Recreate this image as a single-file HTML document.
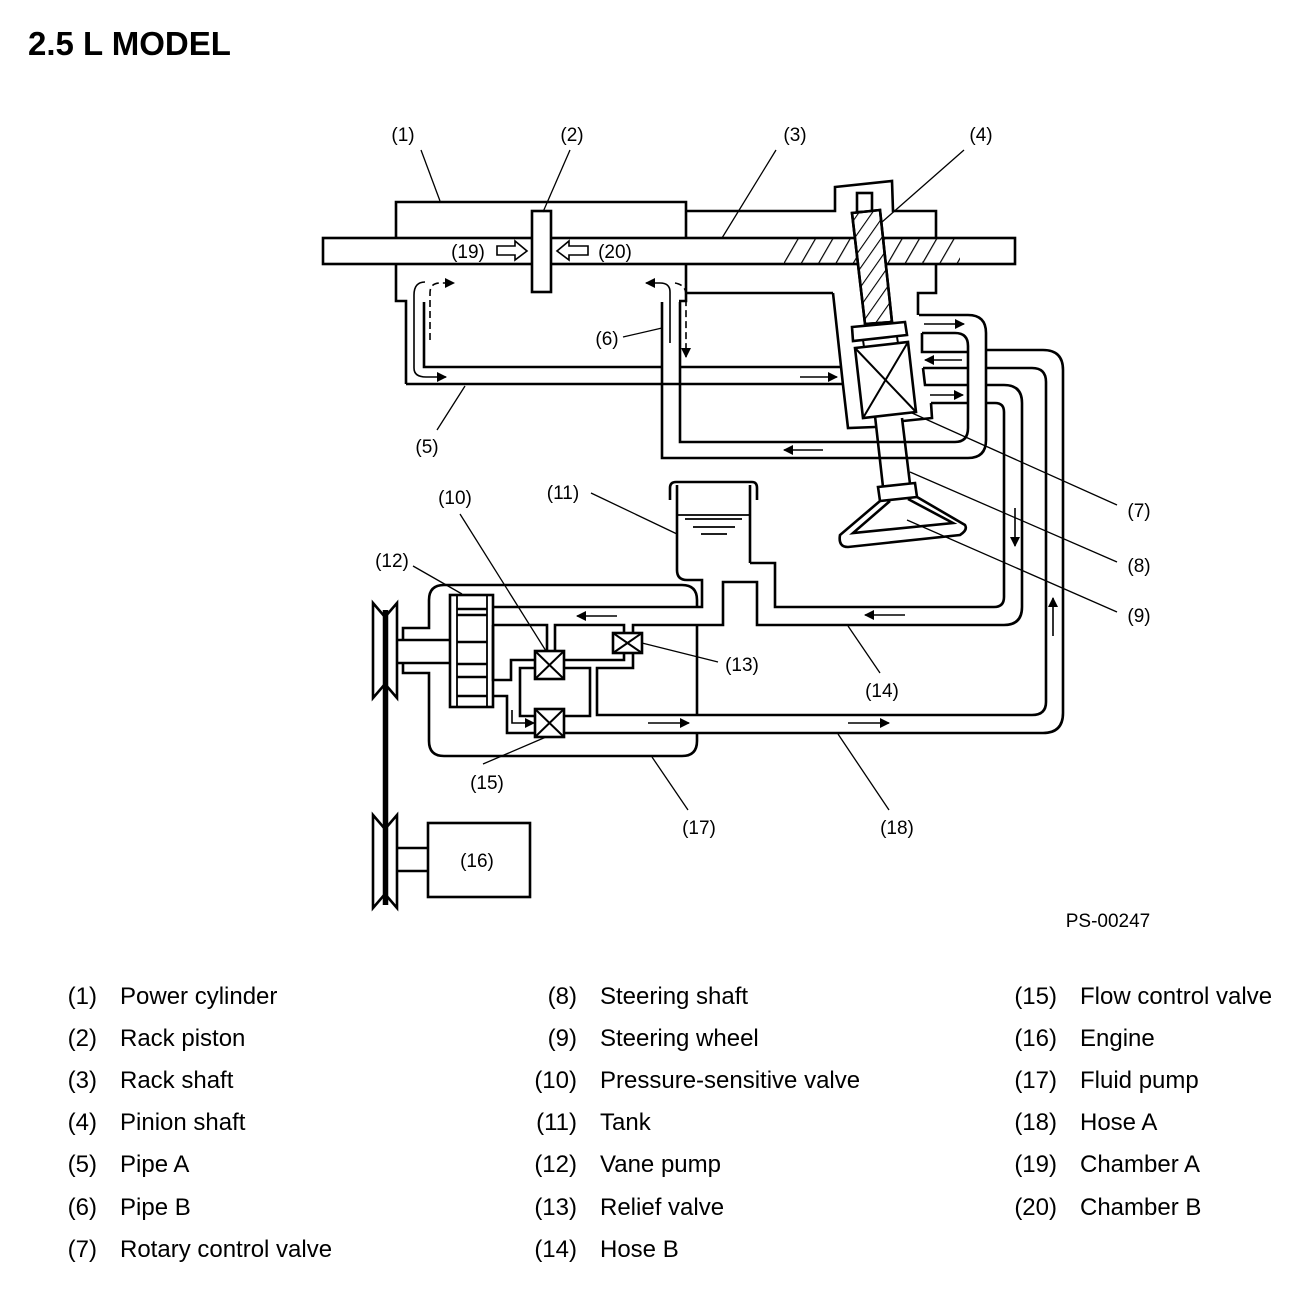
<!DOCTYPE html>
<html><head><meta charset="utf-8"><style>
html,body{margin:0;padding:0;background:#fff;}
body{width:1312px;height:1304px;position:relative;overflow:hidden;font-family:"Liberation Sans",sans-serif;}
svg{position:absolute;left:0;top:0;}
</style></head><body>
<svg width="1312" height="1304" viewBox="0 0 1312 1304" xmlns="http://www.w3.org/2000/svg">
<defs>
<marker id="ah" viewBox="0 0 10 10" refX="9" refY="5" markerWidth="14" markerHeight="10" markerUnits="userSpaceOnUse" orient="auto"><path d="M0,0 L10,5 L0,10 z" fill="#000"/></marker>
<pattern id="hatch" width="15" height="15" patternUnits="userSpaceOnUse" patternTransform="rotate(30)"><line x1="0" y1="0" x2="0" y2="15" stroke="#000" stroke-width="2.4"/></pattern>
<pattern id="hatch2" width="11" height="11" patternUnits="userSpaceOnUse" patternTransform="rotate(35)"><line x1="0" y1="0" x2="0" y2="11" stroke="#000" stroke-width="2.2"/></pattern>
</defs>
<text x="28" y="55" font-size="33" font-weight="bold" font-family="Liberation Sans, sans-serif">2.5 L MODEL</text>

<g fill="none" stroke="#000" stroke-width="2.6" stroke-linejoin="miter">
<path d="M686,211 H835 V187 L892,181 L893,211 H936 V293 H918 V315" fill="#fff"/>
<path d="M406,384 V301 H396 V202 H686 V301 H679" fill="#fff"/>
<rect x="323" y="238" width="692" height="26" fill="#fff"/>
<rect x="784" y="239" width="176" height="24" fill="url(#hatch)" stroke="none"/>
<rect x="532" y="211" width="19" height="81" fill="#fff"/>
<path d="M662,367 H424 V302"/>
<path d="M406,384 H843"/>
<path d="M680,367 H842"/>
<path d="M686,293 H820 H833"/>
<path d="M833,293 L843,385 L848,428 L875,427"/>
<path d="M662,302 V458 H968 Q986,458 986,440 V333 Q986,315 968,315 H919"/>
<path d="M680,302 V442 H955 Q968,442 968,428 V346 Q968,333 955,333 H922"/>
<path d="M922,333 V352 H968"/><path d="M923,368 H968"/><path d="M923,368 L925,385 H968"/><path d="M931,403 H968"/>
<path d="M931,403 L932,418 L903,421"/>
<path d="M986,350 H1043 Q1063,350 1063,370 V713 Q1063,733 1043,733 H564"/>
<path d="M986,368 H1032 Q1046,368 1046,382 V702 Q1046,715 1032,715 H597 V668 H633 V653"/>
<path d="M986,385 H1004 Q1022,385 1022,403 V607 Q1022,625 1004,625 H757 V582 H723 V625 H633 V633"/>
<path d="M986,403 H995 Q1004,403 1004,412 V597 Q1004,607 994,607 H775 V563 H750"/>
<path d="M750,563 V485 M677,485 V570 Q677,580 687,580 H702 V607 H493"/>
<path d="M670,500 V488 Q670,482 676,482 H752 Q757,482 757,488 V500"/>
<path d="M677,515 H750" stroke-width="1.8"/><path d="M685,519 H742" stroke-width="1.8"/><path d="M693,527 H735" stroke-width="1.8"/><path d="M701,534 H727" stroke-width="1.8"/>
<path d="M697,607 V600 Q697,585 682,585 H444 Q429,585 429,600 V628 H403 V640 M403,663 V673 H429 V741 Q429,756 444,756 H682 Q697,756 697,741 V733"/>
<path d="M697,625 V715"/>
<path d="M397,640 H450 M397,663 H450"/>
<rect x="450" y="595" width="43" height="112" fill="#fff"/>
<path d="M457,595 V707 M487,595 V707" stroke-width="1.8"/>
<path d="M457,609 H487 M457,615 H487 M457,642 H487 M457,664 H487 M457,677 H487 M457,696 H487" stroke-width="2.4"/>
<path d="M493,625 H547 V651 M555,651 V625 H624 V633 M493,625 V680 H511 V660 H535"/>
<path d="M564,660 H624 V653"/>
<path d="M564,668 H590 V716 H564 M535,668 H520 V716 H535"/>
<path d="M493,696 H507 V733 H535"/>
<g fill="#fff"><rect x="535" y="651" width="29" height="28"/><rect x="535" y="709" width="29" height="28"/><rect x="613" y="633" width="29" height="20"/></g>
<path d="M535,651 L564,679 M564,651 L535,679 M535,709 L564,737 M564,709 L535,737 M613,633 L642,653 M642,633 L613,653" stroke-width="2"/>
<rect x="857" y="193" width="15" height="19" fill="#fff"/>
<path d="M852,213 L880,210 L892,322 L865,324 Z" fill="#fff"/>
<path d="M852,213 L880,210 L892,322 L865,324 Z" fill="url(#hatch2)"/>
<path d="M852,327 L905,322 L907,335 L853,341 Z" fill="#fff"/>
<path d="M863,340 L864,347 M897,337 L898,343" stroke-width="2"/>
<path d="M855,348 L908,342 L916,412 L863,418 Z" fill="#fff"/>
<path d="M855,348 L916,412 M908,342 L863,418" stroke-width="2"/>
<path d="M875,416 L883,487 M902,418 L910,484"/>
<path d="M878,487 L915,483 L917,497 L880,501 Z" fill="#fff"/>
<path d="M880,501 L840,535 Q838,547 848,547 L960,535 Q968,530 965,525 L917,497"/>
<path d="M890,501 L853,533 L953,523 L908,499"/>
<path d="M373,603 L385,617 L397,603 V698 L385,684 L373,698 Z"/>
<path d="M373,815 L385,829 L397,815 V908 L385,894 L373,908 Z"/>
<path d="M385.5,610 V905" stroke-width="5.5"/>
<rect x="428" y="823" width="102" height="74"/>
<path d="M397,848 H428 M397,871 H428"/>
</g>

<g stroke="#000" stroke-width="1.6" fill="none" marker-end="url(#ah)">
<line x1="800" y1="377" x2="837" y2="377"/>
<line x1="823" y1="450" x2="784" y2="450"/>
<line x1="924" y1="324" x2="964" y2="324"/>
<line x1="962" y1="360" x2="925" y2="360"/>
<line x1="930" y1="395" x2="963" y2="395"/>
<line x1="1015" y1="508" x2="1015" y2="546"/>
<line x1="1053" y1="636" x2="1053" y2="598"/>
<line x1="905" y1="615" x2="865" y2="615"/>
<line x1="617" y1="616" x2="577" y2="616"/>
<line x1="648" y1="723" x2="689" y2="723"/>
<line x1="848" y1="723" x2="889" y2="723"/>
<path d="M512,710 V723 H534"/>
<path d="M425,282 Q414,282 414,295 V368 Q414,377 426,377 H446"/>
<path d="M430,340 V293 Q430,283 440,283 H454" stroke-dasharray="7,4"/>
<path d="M670,343 V292 Q670,283 660,283 H646"/>
<path d="M675,283 Q686,285 686,295 V357" stroke-dasharray="7,4"/>
</g>
<g fill="#fff" stroke="#000" stroke-width="1.6">
<path d="M497,246 H515 V241 L527,251 L515,260 V255 H497 Z"/>
<path d="M588,246 H569 V241 L557,251 L569,260 V255 H588 Z"/>
</g>

<g stroke="#000" stroke-width="1.3" fill="none">
<line x1="421" y1="150" x2="440" y2="201"/>
<line x1="570" y1="150" x2="543" y2="212"/>
<line x1="776" y1="150" x2="722" y2="238"/>
<line x1="964" y1="150" x2="882" y2="222"/>
<line x1="437" y1="430" x2="465" y2="386"/>
<line x1="623" y1="337" x2="662" y2="328"/>
<line x1="1117" y1="505" x2="912" y2="413"/>
<line x1="1117" y1="562" x2="910" y2="472"/>
<line x1="1117" y1="612" x2="907" y2="520"/>
<line x1="460" y1="514" x2="546" y2="651"/>
<line x1="591" y1="493" x2="677" y2="534"/>
<line x1="413" y1="566" x2="462" y2="594"/>
<line x1="718" y1="662" x2="642" y2="643"/>
<line x1="880" y1="673" x2="848" y2="626"/>
<line x1="483" y1="764" x2="546" y2="737"/>
<line x1="688" y1="810" x2="652" y2="757"/>
<line x1="889" y1="810" x2="838" y2="734"/>
</g>

<g font-size="19" text-anchor="middle" fill="#000">
<text x="403" y="141">(1)</text><text x="572" y="141">(2)</text><text x="795" y="141">(3)</text><text x="981" y="141">(4)</text>
<text x="427" y="453">(5)</text><text x="607" y="345">(6)</text>
<text x="1139" y="517">(7)</text><text x="1139" y="572">(8)</text><text x="1139" y="622">(9)</text>
<text x="455" y="504">(10)</text><text x="563" y="499">(11)</text><text x="392" y="567">(12)</text>
<text x="742" y="671">(13)</text><text x="882" y="697">(14)</text><text x="487" y="789">(15)</text>
<text x="477" y="867">(16)</text><text x="699" y="834">(17)</text><text x="897" y="834">(18)</text>
<text x="468" y="258">(19)</text><text x="615" y="258">(20)</text>
<text x="1108" y="927">PS-00247</text>
</g>

<g font-size="24" fill="#000">
<g text-anchor="end">
<text x="97" y="1004">(1)</text><text x="97" y="1046">(2)</text><text x="97" y="1088">(3)</text><text x="97" y="1130">(4)</text><text x="97" y="1172">(5)</text><text x="97" y="1215">(6)</text><text x="97" y="1257">(7)</text>
<text x="577" y="1004">(8)</text><text x="577" y="1046">(9)</text><text x="577" y="1088">(10)</text><text x="577" y="1130">(11)</text><text x="577" y="1172">(12)</text><text x="577" y="1215">(13)</text><text x="577" y="1257">(14)</text>
<text x="1057" y="1004">(15)</text><text x="1057" y="1046">(16)</text><text x="1057" y="1088">(17)</text><text x="1057" y="1130">(18)</text><text x="1057" y="1172">(19)</text><text x="1057" y="1215">(20)</text>
</g>
<text x="120" y="1004">Power cylinder</text><text x="120" y="1046">Rack piston</text><text x="120" y="1088">Rack shaft</text><text x="120" y="1130">Pinion shaft</text><text x="120" y="1172">Pipe A</text><text x="120" y="1215">Pipe B</text><text x="120" y="1257">Rotary control valve</text>
<text x="600" y="1004">Steering shaft</text><text x="600" y="1046">Steering wheel</text><text x="600" y="1088">Pressure-sensitive valve</text><text x="600" y="1130">Tank</text><text x="600" y="1172">Vane pump</text><text x="600" y="1215">Relief valve</text><text x="600" y="1257">Hose B</text>
<text x="1080" y="1004">Flow control valve</text><text x="1080" y="1046">Engine</text><text x="1080" y="1088">Fluid pump</text><text x="1080" y="1130">Hose A</text><text x="1080" y="1172">Chamber A</text><text x="1080" y="1215">Chamber B</text>
</g>
</svg>
</body></html>
